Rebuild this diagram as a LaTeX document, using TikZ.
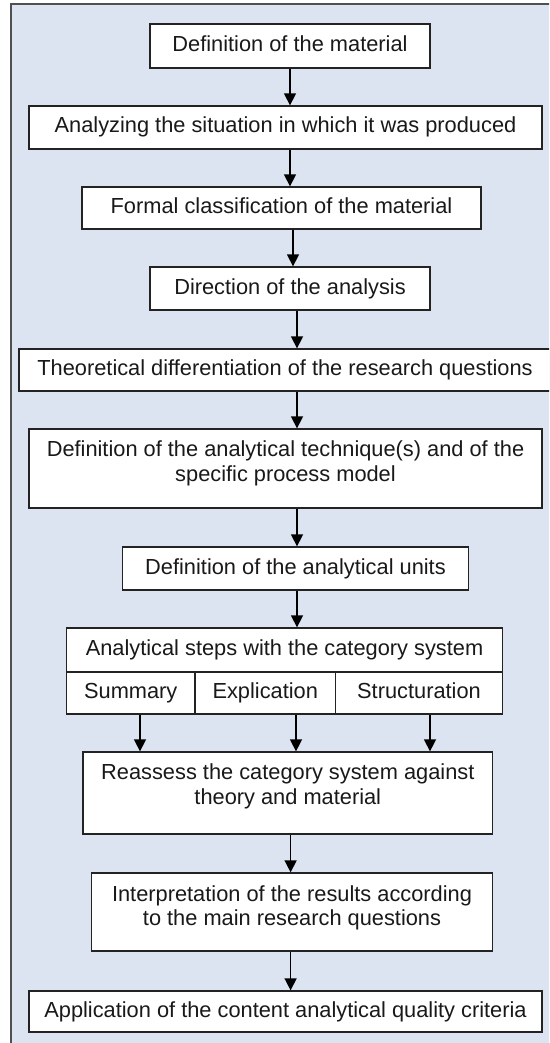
\documentclass[tikz,border=0pt]{standalone}
\usepackage{fontspec}
\setmainfont{Liberation Sans}
\usetikzlibrary{arrows.meta}
\definecolor{framefill}{RGB}{219,228,240}
\definecolor{framedraw}{RGB}{80,80,80}
\definecolor{boxdraw}{RGB}{35,35,35}
\definecolor{txtcol}{RGB}{25,25,25}
\begin{document}
\begin{tikzpicture}[x=1pt,y=-1pt,
  box/.style={draw=boxdraw, line width=1.3pt, fill=white, inner sep=0pt,
    font=\fontsize{21.8}{24.5}\selectfont, text=txtcol, align=center,
    text height=15.6pt, text depth=4.6pt},
  lbl/.style={inner sep=0pt, font=\fontsize{21.8}{24.5}\selectfont, text=txtcol,
    align=center, anchor=north},
  arr/.style={draw=black, line width=1.5pt, -{Triangle[width=12pt,length=12pt]}}]
\useasboundingbox (0,0) rectangle (549,1043);
\clip (0,0) rectangle (549,1043);
\draw[draw=framedraw, fill=framefill, line width=1.5pt] (11,4) rectangle (620,1120);

% boxes
\node[box, minimum width=280pt, minimum height=44pt] (def) at (290,46) {Definition of the material};
\node[box, minimum width=513pt, minimum height=43pt] (ana) at (285.5,127.5) {Analyzing the situation in which it was produced};
\node[box, minimum width=399pt, minimum height=42pt] (formal) at (281.5,208) {Formal classification of the material};
\node[box, minimum width=280pt, minimum height=43pt] (dir) at (290,288.5) {Direction of the analysis};
\node[box, minimum width=582pt, minimum height=42pt] (theo) at (310,370) {};
\node[lbl, anchor=center, text height=15.6pt, text depth=4.6pt] (theot) at (285,370) {Theoretical differentiation of the research questions};
\node[box, minimum width=513pt, minimum height=79pt] (tech) at (285.5,468.5) {};
\node[lbl] (techt) at (285.5,440.5) {Definition of the analytical technique(s) and of the\\specific process model};
\node[box, minimum width=346pt, minimum height=43pt] (units) at (295.5,568.5) {Definition of the analytical units};
\node[box, minimum width=436pt, minimum height=44pt] (steps) at (284.5,650) {Analytical steps with the category system};
\node[box, minimum width=128.5pt, minimum height=42pt] (sum) at (130.75,693) {Summary};
\node[box, minimum width=140.5pt, minimum height=42pt] (expl) at (265.25,693) {Explication};
\node[box, minimum width=167pt, minimum height=42pt] (struc) at (419,693) {Structuration};
\node[box, minimum width=409.6pt, minimum height=82pt] (re) at (287.8,793) {};
\node[lbl] (ret) at (287.8,763.5) {Reassess the category system against\\theory and material};
\node[box, minimum width=401pt, minimum height=78pt] (interp) at (292,912) {};
\node[lbl] (interpt) at (292,885) {Interpretation of the results according\\to the main research questions};
\node[box, minimum width=513pt, minimum height=41pt] (app) at (285.5,1011.5) {Application of the content analytical quality criteria};

% arrow axes
\coordinate (axA) at (290,0);
\coordinate (axB) at (293,0);
\coordinate (axC) at (297,0);
\coordinate (axS) at (140,0);
\coordinate (axE) at (296,0);
\coordinate (axT) at (430,0);
\coordinate (axD) at (290.6,0);

% connectors
\draw[arr] (def.south -| axA) -- (ana.north -| axA);
\draw[arr] (ana.south -| axA) -- (formal.north -| axA);
\draw[arr] (formal.south -| axB) -- (dir.north -| axB);
\draw[arr] (dir.south -| axC) -- (theo.north -| axC);
\draw[arr] (theo.south -| axC) -- (tech.north -| axC);
\draw[arr] (tech.south -| axC) -- (units.north -| axC);
\draw[arr] (units.south -| axC) -- (steps.north -| axC);
\draw[arr] (sum.south -| axS) -- (re.north -| axS);
\draw[arr] (expl.south -| axE) -- (re.north -| axE);
\draw[arr] (struc.south -| axT) -- (re.north -| axT);
\draw[arr] (re.south -| axD) -- (interp.north -| axD);
\draw[arr] (interp.south -| axD) -- (app.north -| axD);
\end{tikzpicture}
\end{document}
